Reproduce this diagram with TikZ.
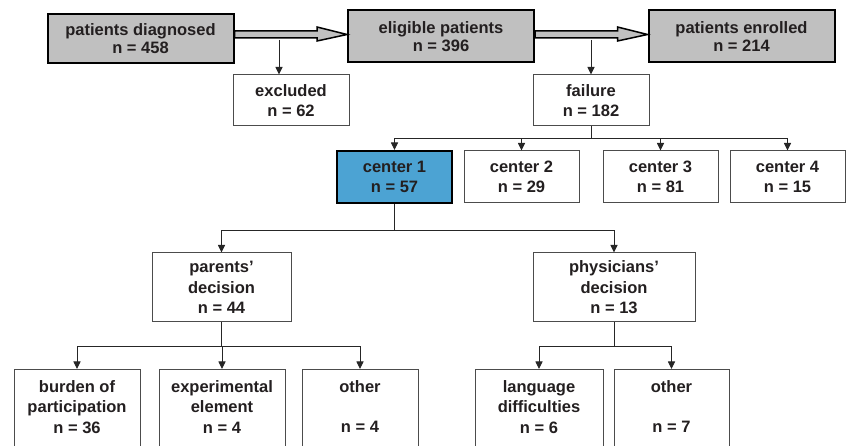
\documentclass[tikz,border=0pt]{standalone}
\usepackage{fontspec}
\setmainfont{Liberation Sans}
\definecolor{boxgray}{RGB}{192,192,192}
\definecolor{centerblue}{RGB}{76,163,211}
\definecolor{txt}{RGB}{35,31,32}
\usetikzlibrary{arrows.meta, calc, positioning}
\newcommand{\branch}[3]
{
	\draw[link] (#3.south) -- +(0,#1) -| (#2.north)
}
\newcommand{\fatarrow}[2]
{
	\draw[fat] (#1.east |- 0,31) -- ($(#2.west |- 0,31)+(-30,0)$) -- ($(#2.west |- 0,27)+(-30,0)$)
		-- (#2.west |- 0,34.5) -- ($(#2.west |- 0,41)+(-30,0)$) -- ($(#2.west |- 0,38)+(-30,0)$)
		-- (#1.east |- 0,38) -- cycle
}
\tikzset{
	box/.style={draw=black!70, line width=1pt, fill=white, minimum height=51, minimum width=116,
		font=\bfseries\fontsize{16.5}{20.5}\selectfont},
	mainbox/.style={box, draw=black, line width=2pt, fill=boxgray, minimum width=186,
		font=\bfseries\fontsize{16.5}{18.5}\selectfont},
	centerbox/.style={box, draw=black, line width=2pt, fill=centerblue},
	lowbox/.style={box, anchor=north, minimum height=0pt, inner ysep=11pt, text depth=70pt},
	link/.style={draw=black!85, line width=0.9pt, -{Triangle[length=7.5pt,width=7pt]}},
	fat/.style={draw=black, line width=1.5pt, fill=boxgray, line join=miter}
}
\begin{document}
\begin{tikzpicture}[x=1pt, y=-1pt, every node/.append style={align=center, text=txt, inner sep=0pt}]
	\useasboundingbox (0,0) rectangle (847,446);
	\clip (0,0) rectangle (847,446);
	\node[mainbox, minimum height=49] (diag) at (140.5,38.5) {patients diagnosed\\n = 458};
	\node[mainbox, minimum height=52] (elig) at (441,36.5) {eligible patients\\n = 396};
	\node[mainbox, minimum height=52] (enrol) at (741.5,36.5) {patients enrolled\\n = 214};
	\fatarrow{diag}{elig};
	\fatarrow{elig}{enrol};
	\node[box] (excl) at (291,100.5) {excluded\\n = 62};
	\node[box] (fail) at (591,100.5) {failure\\n = 182};
	\coordinate (ex) at (279,40);
	\coordinate (fa) at (591,40);
	\draw[link] (ex) -- (ex |- excl.north);
	\draw[link] (fa) -- (fail.north);
	\node[centerbox, minimum height=52, minimum width=115] (c1) at (394.5,177) {center 1\\n = 57};
		\foreach \i/\x/\k in {2/521.5/29, 3/660.5/81, 4/787.5/15}
			\node[box, minimum height=52, minimum width=115] (c\i) at (\x,177) {center \i\\n = \k};
		\foreach \i in {1,...,4}
			\branch{12}{c\i}{fail};
	\node[box, minimum height=69, minimum width=139] (par) at (221.5,287.5) {parents'\\decision\\n = 44};
	\node[box, minimum height=69, minimum width=162] (phy) at (614,287.5) {physicians'\\decision\\n = 13};
		\foreach \x in {par, phy}
			\branch{26}{\x}{c1};
	\node[lowbox, minimum width=126] (burden) at (77,369) {burden of\\participation\\n = 36};
	\node[lowbox, minimum width=126] (exper) at (222,369) {experimental\\element\\n = 4};
	\node[lowbox, minimum width=116] (otherp) at (360,369) {other\\[20pt]n = 4};
	\node[lowbox, minimum width=128] (lang) at (539,369) {language\\difficulties\\n = 6};
	\node[lowbox, minimum width=115] (otherd) at (671.5,369) {other\\[20pt]n = 7};
		\foreach \x in {burden, exper, otherp}
			\branch{24}{\x}{par};
		\foreach \x in {lang, otherd}
			\branch{24}{\x}{phy};
\end{tikzpicture}
\end{document}
